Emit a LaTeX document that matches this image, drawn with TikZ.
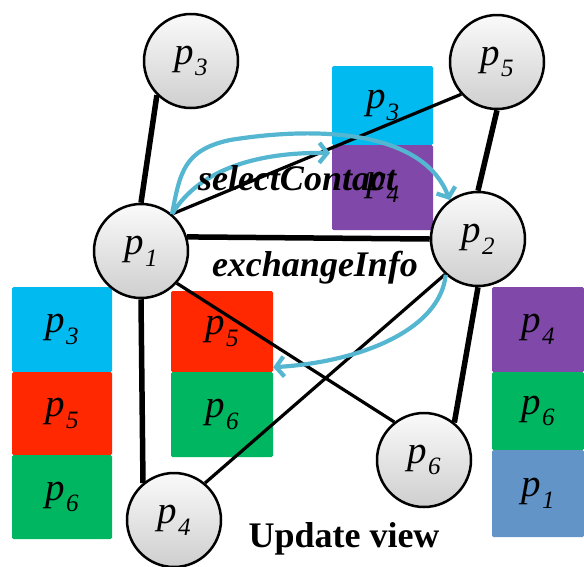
\documentclass[tikz,border=0pt]{standalone}
\usepackage{fontspec}
\setmainfont{Liberation Serif}
\usetikzlibrary{arrows.meta}

\definecolor{cellcyan}{RGB}{0,186,240}
\definecolor{cellpurple}{RGB}{128,72,168}
\definecolor{cellred}{RGB}{255,40,0}
\definecolor{cellgreen}{RGB}{0,182,96}
\definecolor{cellblue}{RGB}{98,148,200}
\definecolor{flowblue}{RGB}{84,182,208}

\newcommand{\pid}[1]{\textit{p}\kern1pt\raisebox{-.3em}{\fontsize{25}{25}\selectfont\textit{#1}}}

\begin{document}
\begin{tikzpicture}[x=1pt,y=-1pt,
    peer/.style={circle, draw, line width=2.5pt, minimum size=94pt, inner sep=0pt,
      top color=gray!4, bottom color=gray!38, font=\fontsize{39}{39}\selectfont},
    cell/.style={rectangle, rounded corners=1.5pt, inner sep=0pt, font=\fontsize{39}{39}\selectfont},
    link/.style={line width=5.5pt},
    thinlink/.style={line width=3.2pt},
    flow/.style={draw=flowblue, line width=4.2pt, -{Straight Barb[length=8pt,width=20pt]}},
    lbl/.style={font=\fontsize{36}{36}\selectfont\bfseries\itshape, anchor=base}]
            \useasboundingbox (0,0) rectangle (584,566);

            % views
            \node[cell, fill=cellcyan,   minimum width=101pt, minimum height=79pt] (t3) at (382.5,105.5) {\raisebox{-6pt}{\pid{3}}};
            \node[cell, fill=cellpurple, minimum width=101pt, minimum height=85pt] (t4) at (382.5,187.5) {\raisebox{-12pt}{\pid{4}}};
            \node[cell, fill=cellcyan,   minimum width=100pt, minimum height=85pt] (a3) at (62,329.5) {\pid{3}};
            \node[cell, fill=cellred,    minimum width=100pt, minimum height=83pt] (a5) at (62,413.5) {\pid{5}};
            \node[cell, fill=cellgreen,  minimum width=100pt, minimum height=84pt] (a6) at (62,497) {\pid{6}};
            \node[cell, fill=cellred,    minimum width=102pt, minimum height=81pt] (m5) at (222,331.5) {\pid{5}};
            \node[cell, fill=cellgreen,  minimum width=102pt, minimum height=85pt] (m6) at (222,414.5) {\pid{6}};
            \node[cell, fill=cellpurple, minimum width=92pt,  minimum height=85pt] (b4) at (538,329.5) {\pid{4}};
            \node[cell, fill=cellgreen,  minimum width=92pt,  minimum height=78pt] (b6) at (538,411) {\pid{6}};
            \node[cell, fill=cellblue,   minimum width=92pt,  minimum height=87pt] (b1) at (538,493.5) {\pid{1}};

            % peers
            \node[peer] (p3) at (191,61)  {\pid{3}};
            \node[peer] (p5) at (497,62)  {\pid{5}};
            \node[peer] (p1) at (141,251) {\pid{1}};
            \node[peer] (p2) at (478,239) {\pid{2}};
            \node[peer] (p4) at (174,520) {\pid{4}};
            \node[peer] (p6) at (424,460) {\pid{6}};

            \draw[link] (p3.225) -- (p1.north);
            \draw[link] (p5.south) -- (p2.north);
            \draw[link] (p1.17) -- (p2.west);
            \draw[link] (p1.south) -- (p4.130);
            \draw[link] (p2.south) -- (p6.51);
            \draw[thinlink] (p1.50) -- (p5.222);
            \draw[thinlink] (p1.-42) -- (p6.128);
            \draw[thinlink] (p2.227) -- (p4.50);

            % gossip steps
            \coordinate (sc) at (330,153);
            \draw[flow] (p1.50) .. controls (180,172) and (184,150) .. (230,140)
                        .. controls (330,124) and (425,135) .. (p2.126);
            \draw[flow] (p1.50) .. controls (200,168) and (260,152) .. (sc);
            \draw[flow] (p2.228) .. controls (440,330) and (360,362) .. ([yshift=5pt]m5.south east);

            \node[lbl] (sel) at (297,190) {selectContact};
            \node[lbl] (exc) at (315,276) {exchangeInfo};
            \node[font=\fontsize{36}{36}\selectfont\bfseries, anchor=base] (upd) at (344,547) {Update view};
        \end{tikzpicture}
\end{document}
